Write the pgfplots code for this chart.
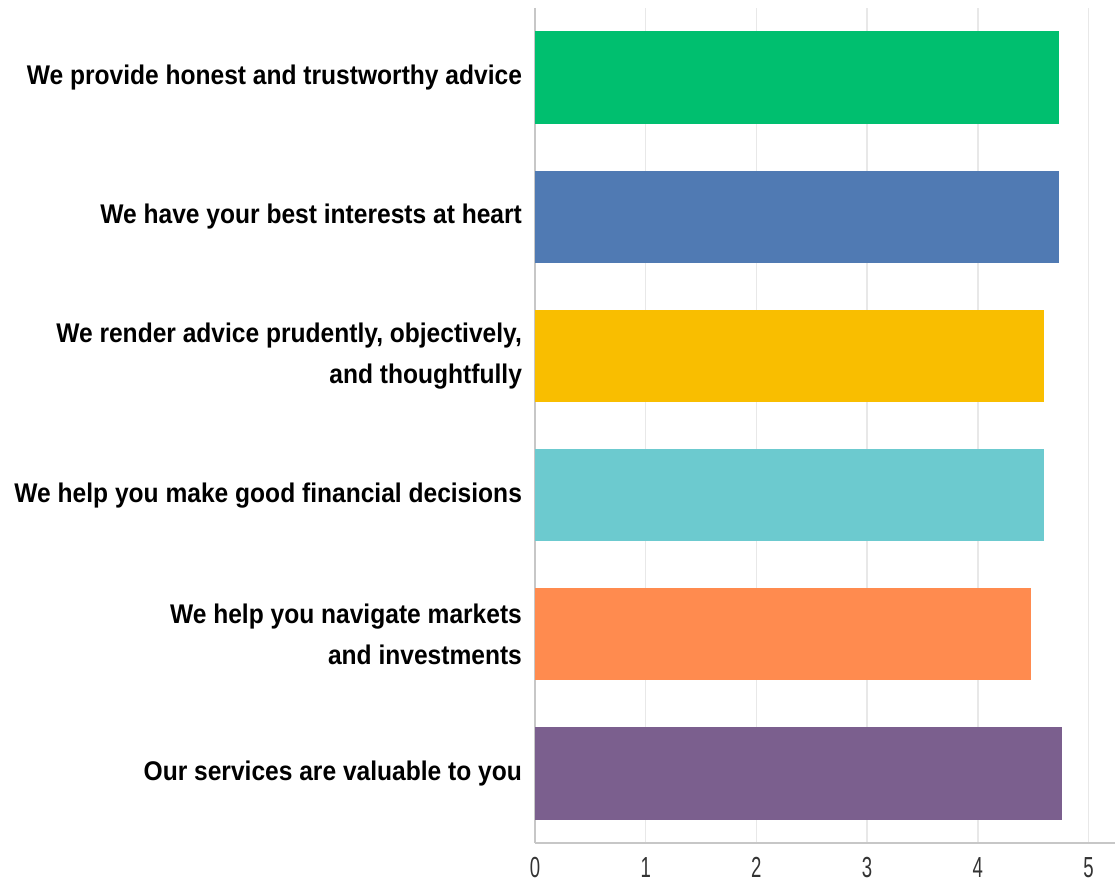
\documentclass[border=0pt]{standalone}
\usepackage{fontspec}
\setmainfont{Liberation Sans}
\newfontfamily\labfont{Liberation Sans}[FakeStretch=0.91]
\newfontfamily\tickfont{Liberation Sans}[FakeStretch=0.64]
\usepackage{pgfplots}
\pgfplotsset{compat=1.18}
\definecolor{cgreen}{HTML}{00BF6F}
\definecolor{cblue}{HTML}{507AB3}
\definecolor{cyellow}{HTML}{F9BE00}
\definecolor{cteal}{HTML}{6CCACF}
\definecolor{corange}{HTML}{FF8B4F}
\definecolor{cpurple}{HTML}{7B5F8E}
\begin{document}
\begin{tikzpicture}
\useasboundingbox (-267.5pt,-20pt) rectangle (290pt,421.5pt);
\begin{axis}[
  scale only axis,
  width=290pt, height=417.5pt,
  xbar, bar width=0.663, bar shift=0pt,
  xmin=0, xmax=5.24,
  ymin=-0.5, ymax=5.5,
  y dir=reverse,
  axis lines*=left,
  axis line style={draw=black!22, line width=0.8pt},
  xtick={0,1,2,3,4,5},
  ytick={0,1,2,3,4,5},
  yticklabels={
    We provide honest and trustworthy advice,
    We have your best interests at heart,
    {We render advice prudently, objectively,\\and thoughtfully},
    We help you make good financial decisions,
    {We help you navigate markets\\and investments},
    Our services are valuable to you},
  major tick length=0pt,
  xmajorgrids,
  grid style={draw=black!9, line width=0.8pt},
  /pgf/number format/assume math mode=true,
  xticklabel style={font=\tickfont\fontsize{14.5}{16}\selectfont, text=black!80, yshift=-3.7pt},
  yticklabel style={font=\labfont\bfseries\fontsize{13.5}{20.5}\selectfont, align=right, xshift=-3pt},
]
\addplot[fill=cgreen, draw=none] coordinates {(4.73,0)};
\addplot[fill=cblue, draw=none] coordinates {(4.73,1)};
\addplot[fill=cyellow, draw=none] coordinates {(4.60,2)};
\addplot[fill=cteal, draw=none] coordinates {(4.60,3)};
\addplot[fill=corange, draw=none] coordinates {(4.48,4)};
\addplot[fill=cpurple, draw=none] coordinates {(4.76,5)};
\end{axis}
\end{tikzpicture}
\end{document}
